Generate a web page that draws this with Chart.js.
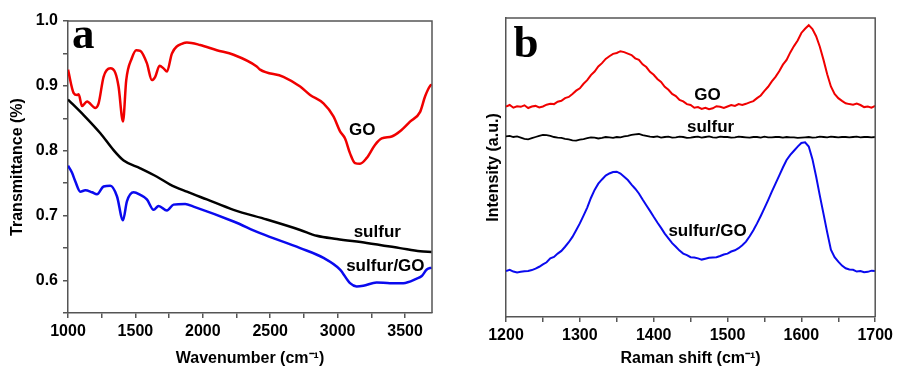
<!DOCTYPE html>
<html>
<head>
<meta charset="utf-8">
<script src="https://cdn.jsdelivr.net/npm/chart.js@4.4.0/dist/chart.umd.min.js"></script>
<style>
html, body { margin: 0; padding: 0; background: #fff; }
#wrap { position: relative; width: 897px; height: 368px; overflow: hidden; }
#chartA { position: absolute; left: 0; top: 0; }
#chartB { position: absolute; left: 450px; top: 0; }
</style>
</head>
<body>
<div id="wrap">
  <canvas id="chartA" width="450" height="368"></canvas>
  <canvas id="chartB" width="447" height="368"></canvas>
</div>
<script>
// (a) FTIR spectra
var goFtirX = [1000,1042,1067,1079,1104,1141,1203,1227,1264,1314,1351,1375,1408,1432,1474,1506,1536,1585,1622,1647,1679,1709,1734,1771,1857,1882,1981,2104,2228,2400,2425,2598,2722,2796,2895,2969,3018,3055,3092,3129,3166,3216,3277,3327,3401,3463,3537,3612,3649,3686,3700];
var goFtirY = [0.925,0.889,0.886,0.887,0.869,0.876,0.866,0.873,0.914,0.927,0.920,0.899,0.845,0.909,0.943,0.955,0.954,0.935,0.909,0.914,0.931,0.927,0.922,0.950,0.966,0.967,0.963,0.955,0.948,0.930,0.925,0.914,0.899,0.886,0.873,0.853,0.830,0.819,0.796,0.781,0.780,0.789,0.809,0.819,0.822,0.830,0.845,0.860,0.884,0.900,0.902];

var sulfurFtirX = [1000,1116,1240,1338,1413,1536,1660,1758,1882,2030,2228,2475,2722,2845,2994,3216,3463,3612,3698];
var sulfurFtirY = [0.879,0.855,0.827,0.801,0.785,0.773,0.760,0.748,0.737,0.725,0.709,0.694,0.678,0.669,0.664,0.658,0.650,0.645,0.644];

var sgoFtirX = [1000,1030,1054,1091,1128,1178,1215,1264,1314,1363,1408,1437,1487,1536,1585,1635,1672,1734,1783,1869,1931,2228,2425,2722,2895,3018,3092,3141,3190,3289,3388,3487,3587,3624,3661,3698];
var sgoFtirY = [0.777,0.766,0.753,0.737,0.739,0.736,0.733,0.745,0.746,0.730,0.693,0.722,0.736,0.732,0.725,0.709,0.715,0.708,0.717,0.718,0.714,0.691,0.673,0.650,0.635,0.617,0.596,0.591,0.592,0.597,0.596,0.596,0.603,0.607,0.617,0.620];

var ftirXTicks = [1000,1250,1500,1750,2000,2250,2500,2750,3000,3250,3500];
var ftirYTicks = [0.55,0.6,0.65,0.7,0.75,0.8,0.85,0.9,0.95,1.0];

// (b) Raman spectra, shift every 5 cm-1
var ramanShift = [1200,1205,1210,1215,1220,1225,1230,1235,1240,1245,1250,1255,1260,1265,1270,1275,1280,1285,1290,1295,
    1300,1305,1310,1315,1320,1325,1330,1335,1340,1345,1350,1355,1360,1365,1370,1375,1380,1385,1390,1395,
    1400,1405,1410,1415,1420,1425,1430,1435,1440,1445,1450,1455,1460,1465,1470,1475,1480,1485,1490,1495,
    1500,1505,1510,1515,1520,1525,1530,1535,1540,1545,1550,1555,1560,1565,1570,1575,1580,1585,1590,1595,
    1600,1605,1610,1615,1620,1625,1630,1635,1640,1645,1650,1655,1660,1665,1670,1675,1680,1685,1690,1695,1700];
var goRaman = [70.4,70.9,70.0,70.5,70.3,70.8,69.9,70.4,70.6,70.1,70.4,71.0,71.3,71.2,72.0,72.3,73.2,73.6,74.6,75.7,
    76.5,78.0,79.2,80.9,82.1,83.8,84.9,86.3,87.2,88.0,88.3,88.9,88.6,88.1,87.6,86.5,86.0,84.5,83.6,82.0,
    81.0,79.6,78.6,77.0,76.0,74.6,73.9,72.6,72.1,71.2,70.9,70.0,70.2,69.6,70.0,69.5,69.8,70.5,70.3,69.9,
    70.4,70.9,70.6,71.2,70.9,71.3,71.8,72.2,73.2,74.1,75.6,77.0,78.8,80.3,82.2,84.4,86.0,88.5,90.6,92.5,
    95.0,96.4,97.6,96.3,93.9,90.4,86.0,81.2,77.1,74.6,73.2,72.3,71.5,71.2,71.0,71.4,70.9,70.2,70.4,70.0,70.6];
var sulfurRaman = [60.4,60.6,60.2,60.4,60.0,59.6,59.4,59.8,60.2,60.6,60.9,60.8,60.6,60.2,60.0,59.9,59.6,59.4,59.1,59.0,
    59.3,59.5,59.8,60.1,60.0,59.7,59.9,60.2,60.1,59.9,60.2,60.1,60.4,60.6,60.9,61.1,61.2,60.8,60.6,60.3,
    60.2,60.4,60.0,60.2,60.3,60.0,60.1,60.3,60.2,59.9,60.0,60.2,60.3,60.0,60.2,60.4,60.1,60.0,60.3,60.2,
    60.2,60.0,60.1,60.3,60.2,60.1,60.0,60.2,60.2,60.0,60.3,60.1,60.1,60.2,60.2,60.0,60.2,60.1,60.1,59.9,
    60.0,60.1,60.2,60.0,60.1,60.3,60.2,60.1,60.3,60.2,60.1,60.2,60.2,60.1,60.2,60.3,60.1,60.2,60.2,60.1,60.2];
var sgoRaman = [15.4,15.8,15.2,14.9,15.1,15.3,15.4,15.7,16.2,16.8,17.6,18.3,19.6,20.1,21.2,22.1,23.5,25.0,26.8,29.0,
    31.3,33.9,36.6,39.8,42.5,44.6,46.0,47.3,48.0,48.5,48.6,48.0,46.9,45.8,44.3,42.9,41.3,39.3,37.4,35.5,
    33.5,31.6,29.8,27.9,26.3,24.7,23.5,22.2,21.2,20.7,20.0,19.9,19.6,19.2,19.5,19.8,19.9,20.0,20.4,20.9,
    21.2,21.9,22.3,23.0,24.0,25.2,27.0,29.0,31.3,33.8,36.4,39.1,41.9,44.6,47.3,50.0,52.5,54.2,55.6,57.0,
    58.2,58.4,57.0,52.8,47.0,40.6,34.5,28.3,22.5,20.0,18.5,17.2,16.3,15.9,15.8,15.2,15.4,15.0,15.1,15.5,15.4];

var ramanXTicks = [1200,1250,1300,1350,1400,1450,1500,1550,1600,1650,1700];

var axisColor = '#555';
var tickFont = { family: 'Liberation Sans, Arial, sans-serif', size: 16, weight: 'bold' };
var titleFont = { family: 'Liberation Sans, Arial, sans-serif', size: 16, weight: 'bold' };

function pairs(xs, ys) {
    return xs.map(function (x, i) { return { x: x, y: ys[i] }; });
}

function fixedTicks(values) {
    return function (scale) {
        scale.ticks = values.map(function (v) { return { value: v }; });
    };
}

// draws top/right frame, the panel letter and the curve labels
function decorations(letter, letterDx, letterDy, notes) {
    return {
        id: 'decorations',
        afterDraw: function (chart) {
            var ctx = chart.ctx, a = chart.chartArea;
            ctx.save();
            ctx.strokeStyle = axisColor;
            ctx.lineWidth = 1.5;
            ctx.beginPath();
            ctx.moveTo(a.left, a.top);
            ctx.lineTo(a.right, a.top);
            ctx.lineTo(a.right, a.bottom);
            ctx.stroke();

            ctx.fillStyle = '#000';
            ctx.font = 'bold 45px "Liberation Serif", "Times New Roman", serif';
            ctx.textBaseline = 'alphabetic';
            ctx.textAlign = 'left';
            ctx.fillText(letter, a.left + letterDx, a.top + letterDy);

            ctx.font = 'bold 17px "Liberation Sans", Arial, sans-serif';
            ctx.textAlign = 'center';
            ctx.textBaseline = 'middle';
            notes.forEach(function (n) {
                ctx.fillText(n.text, chart.scales.x.getPixelForValue(n.x), chart.scales.y.getPixelForValue(n.y));
            });
            ctx.restore();
        }
    };
}

var lineDefaults = { pointRadius: 0, fill: false };

new Chart(document.getElementById('chartA'), {
    type: 'line',
    data: {
        datasets: [
            Object.assign({ label: 'GO', data: pairs(goFtirX, goFtirY), borderColor: '#f00000', borderWidth: 2.5, cubicInterpolationMode: 'monotone' }, lineDefaults),
            Object.assign({ label: 'sulfur', data: pairs(sulfurFtirX, sulfurFtirY), borderColor: '#000', borderWidth: 2.5, cubicInterpolationMode: 'monotone' }, lineDefaults),
            Object.assign({ label: 'sulfur/GO', data: pairs(sgoFtirX, sgoFtirY), borderColor: '#0a0aee', borderWidth: 2.5, cubicInterpolationMode: 'monotone' }, lineDefaults)
        ]
    },
    options: {
        responsive: false,
        animation: false,
        layout: { padding: { left: 0, top: 21, right: 18, bottom: 0 } },
        plugins: { legend: { display: false }, tooltip: { enabled: false } },
        scales: {
            x: {
                type: 'linear', min: 1000, max: 3700,
                border: { display: true, color: axisColor, width: 1.5 },
                grid: { drawOnChartArea: false, drawTicks: true, tickLength: 5, color: axisColor, lineWidth: 1.5 },
                afterBuildTicks: fixedTicks(ftirXTicks),
                ticks: {
                    autoSkip: false, maxRotation: 0,
                    color: '#000', font: tickFont, padding: 4,
                    callback: function (v) { return v % 500 === 0 ? String(v) : ''; }
                },
                title: { display: true, text: 'Wavenumber (cm\u207B\u00B9)', color: '#000', font: titleFont, padding: { top: 0, bottom: 0 } },
                afterFit: function (s) { s.height = 55; }
            },
            y: {
                type: 'linear', min: 0.55, max: 1.0,
                border: { display: true, color: axisColor, width: 1.5 },
                grid: { drawOnChartArea: false, drawTicks: true, tickLength: 5, color: axisColor, lineWidth: 1.5 },
                afterBuildTicks: fixedTicks(ftirYTicks),
                ticks: {
                    autoSkip: false, color: '#000', font: tickFont, padding: 5,
                    callback: function (v) { return Math.round(v * 100) % 10 === 0 ? v.toFixed(1) : ''; }
                },
                title: { display: true, text: 'Transmittance (%)', color: '#000', font: titleFont, padding: { top: 8, bottom: 0 } },
                afterFit: function (s) { s.width = 68; }
            }
        }
    },
    plugins: [decorations('a', 4, 27, [
        { text: 'GO', x: 3183, y: 0.831 },
        { text: 'sulfur', x: 3294, y: 0.674 },
        { text: 'sulfur/GO', x: 3354, y: 0.622 }
    ])]
});

new Chart(document.getElementById('chartB'), {
    type: 'line',
    data: {
        datasets: [
            Object.assign({ label: 'GO', data: pairs(ramanShift, goRaman), borderColor: '#f00000', borderWidth: 2 }, lineDefaults),
            Object.assign({ label: 'sulfur', data: pairs(ramanShift, sulfurRaman), borderColor: '#000', borderWidth: 1.8 }, lineDefaults),
            Object.assign({ label: 'sulfur/GO', data: pairs(ramanShift, sgoRaman), borderColor: '#0a0aee', borderWidth: 2 }, lineDefaults)
        ]
    },
    options: {
        responsive: false,
        animation: false,
        layout: { padding: { left: 0, top: 18, right: 20, bottom: 0 } },
        plugins: { legend: { display: false }, tooltip: { enabled: false } },
        scales: {
            x: {
                type: 'linear', min: 1200, max: 1700,
                border: { display: true, color: axisColor, width: 1.5 },
                grid: { drawOnChartArea: false, drawTicks: true, tickLength: 5, color: axisColor, lineWidth: 1.5 },
                afterBuildTicks: fixedTicks(ramanXTicks),
                ticks: {
                    autoSkip: false, maxRotation: 0,
                    color: '#000', font: tickFont, padding: 4,
                    callback: function (v) { return v % 100 === 0 ? String(v) : ''; }
                },
                title: { display: true, text: 'Raman shift (cm\u207B\u00B9)', color: '#000', font: titleFont, padding: { top: 0, bottom: 0 } },
                afterFit: function (s) { s.height = 51; }
            },
            y: {
                type: 'linear', min: 0, max: 100,
                border: { display: true, color: axisColor, width: 1.5 },
                grid: { display: false },
                ticks: { display: false },
                title: { display: true, text: 'Intensity (a.u.)', color: '#000', font: titleFont, padding: { top: 34, bottom: 0 } },
                afterFit: function (s) { s.width = 56; }
            }
        }
    },
    plugins: [decorations('b', 7.5, 39, [
        { text: 'GO', x: 1473, y: 74.0 },
        { text: 'sulfur', x: 1477, y: 63.6 },
        { text: 'sulfur/GO', x: 1473, y: 28.7 }
    ])]
});
</script>
</body>
</html>
